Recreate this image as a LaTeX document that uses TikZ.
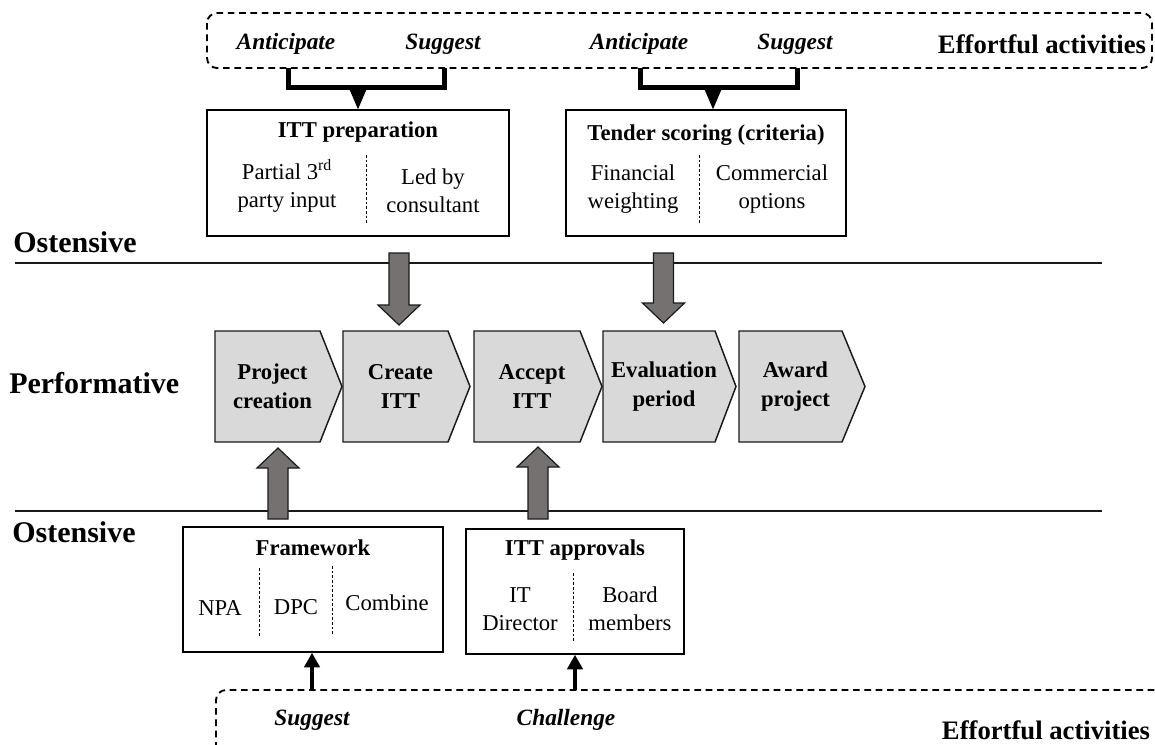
\documentclass[tikz,border=0pt]{standalone}
\usepackage{fontspec}
\setmainfont{Liberation Serif}
\usetikzlibrary{calc,arrows.meta}

\definecolor{chevfill}{HTML}{D9D9D9}
\definecolor{arrowfill}{HTML}{767171}
\definecolor{inkdark}{HTML}{1A1A1A}

\tikzset{
  every node/.style={inner sep=0pt, align=center, font=\fontsize{17}{21}\selectfont},
  effortbox/.style={draw=black, line width=1.4pt, dash pattern=on 5pt off 3.5pt, rounded corners=7.5pt},
  activity/.style={font=\fontsize{17.5}{21}\selectfont\bfseries\itshape},
  efflabel/.style={font=\fontsize{20}{24}\selectfont\bfseries},
  layer/.style={anchor=west, font=\fontsize{22.5}{27}\selectfont\bfseries},
  bracket/.style={line width=3.75pt, line join=miter},
  routine/.style={draw=black, line width=1.1pt},
  routinetitle/.style={font=\fontsize{17}{21}\selectfont\bfseries},
  divider/.style={draw=black, line width=0.5pt, dash pattern=on 2pt off 1.5pt},
  chevron/.style={draw=inkdark, line width=1.1pt, fill=chevfill, line join=miter},
  chevtext/.style={font=\fontsize{17}{21.75}\selectfont\bfseries},
  blockarrow/.style={draw=inkdark, line width=0.9pt, fill=arrowfill, line join=miter},
  pusharrow/.style={line width=3pt, -{Triangle[length=11pt, width=11.5pt]}},
  layerrule/.style={draw=inkdark, line width=0.8pt}
}

% process step drawn as a chevron: name, left x, body width, total width, label
\newcommand\processstep[5]{%
  \draw[chevron] (#2,331) -- ({#2+#3},331) -- ({#2+#4},386.5) -- ({#2+#3},442) -- (#2,442) -- cycle;
  \node[chevtext] (#1) at ({#2+#3/2+5},386.5) {#5};}

% wide grey block arrow between two vertically aligned coordinates
\newcommand\blockarrowdraw[2]{%
  \draw[blockarrow] let \p1=(#1), \p2=(#2), \n1={ifthenelse(\y1>\y2,1,-1)} in
    ({\x1-7.5pt},\y1) -- ({\x1-7.5pt},{\y2+\n1*15pt}) -- ({\x1-15.75pt},{\y2+\n1*15pt})
    -- (\x1,\y2) -- ({\x1+15.75pt},{\y2+\n1*15pt}) -- ({\x1+7.5pt},{\y2+\n1*15pt})
    -- ({\x1+7.5pt},\y1) -- cycle;}

\begin{document}
\begin{tikzpicture}[x=0.75pt, y=-0.75pt]
  \clip (0,0) rectangle (1155,744);
  \fill[white] (0,0) rectangle (1155,744);

  % layer labels and separating rules
  \node[layer] (ostTop) at (13,242) {Ostensive};
  \node[layer] (perf) at (9,383) {Performative};
  \node[layer] (ostBot) at (12,532) {Ostensive};
  \draw[layerrule] (15,263) -- (1102,263);
  \draw[layerrule] (15,511) -- (1102,511);

  % upper effortful activities
  \draw[effortbox] (207,13) rectangle (1152,68);
  \node[activity] (ant1) at (286,44) {Anticipate};
  \node[activity] (sug1) at (443,44) {Suggest};
  \node[activity] (ant2) at (639,44) {Anticipate};
  \node[activity] (sug2) at (795,44) {Suggest};
  \node[efflabel] (effTop) at (1042,44) {Effortful activities};

  % upper ostensive routines
  \node[routine, minimum width=302*0.75pt, minimum height=126*0.75pt] (prep) at (358,173) {};
  \node[routinetitle] (prepT) at (358,132) {ITT preparation};
  \node (prepA) at (287,186) {Partial 3\textsuperscript{rd}\\party input};
  \node (prepB) at (433,191) {Led by\\consultant};
  \draw[divider] (366,155) -- (366,223);

  \node[routine, minimum width=280*0.75pt, minimum height=126*0.75pt] (tender) at (706,173) {};
  \node[routinetitle] (tenderT) at (706,135) {Tender scoring (criteria)};
  \node (tenderA) at (633,189) {Financial\\weighting};
  \node (tenderB) at (772,189) {Commercial\\options};
  \draw[divider] (699,155) -- (699,223);

  % brackets joining the activities to the routines
  \coordinate (b1l) at (288,68);
  \coordinate (b1r) at (444,68);
  \draw[bracket] (b1l) -- ++(0,19.5) -| (b1r);
  \fill (prep.north) -- ++(-9,-21) -- ++(18,0) -- cycle;

  \coordinate (b2l) at (640,68);
  \coordinate (b2r) at (797,68);
  \draw[bracket] (b2l) -- ++(0,19.5) -| (b2r);
  \fill (tender.north) ++(7,0) coordinate (t2tip) -- ++(-9,-21) -- ++(18,0) -- cycle;

  % performative process steps
  \processstep{pc}{215}{105}{127}{Project\\creation}
  \processstep{cr}{343}{105}{127}{Create\\ITT}
  \processstep{ac}{474}{106}{128}{Accept\\ITT}
  \processstep{ev}{603}{112}{133}{Evaluation\\period}
  \processstep{aw}{739}{103}{126}{Award\\project}

  % grey arrows between the layers
  \coordinate (d1s) at (399,253);   \coordinate (d1e) at (399,325);
  \coordinate (d2s) at (663.5,253); \coordinate (d2e) at (663.5,323);
  \coordinate (u1s) at (278,519);   \coordinate (u1e) at (278,448);
  \coordinate (u2s) at (538,519);   \coordinate (u2e) at (538,447);
  \blockarrowdraw{d1s}{d1e}
  \blockarrowdraw{d2s}{d2e}
  \blockarrowdraw{u1s}{u1e}
  \blockarrowdraw{u2s}{u2e}

  % lower ostensive routines
  \node[routine, minimum width=260*0.75pt, minimum height=125*0.75pt] (fw) at (313,589.5) {};
  \node[routinetitle] (fwT) at (313,548) {Framework};
  \node (npa) at (220,608) {NPA};
  \node (dpc) at (296,607) {DPC};
  \node (comb) at (387,603) {Combine};
  \draw[divider] (259,568) -- (259,638);
  \draw[divider] (332,566) -- (332,636);

  \node[routine, minimum width=218*0.75pt, minimum height=125*0.75pt] (appr) at (575,591.5) {};
  \node[routinetitle] (apprT) at (575,550) {ITT approvals};
  \node (itdir) at (520,609) {IT\\Director};
  \node (board) at (630,609) {Board\\members};
  \draw[divider] (573,573) -- (573,642);

  % lower effortful activities
  \draw[effortbox] (216,760) -- (216,690) -- (1170,690);
  \node[activity] (sug3) at (312,720) {Suggest};
  \node[activity] (chal) at (566,720) {Challenge};
  \node[efflabel] (effBot) at (1046,730) {Effortful activities};

  \coordinate (p1) at (312,690);
  \coordinate (p2) at (575,690);
  \draw[pusharrow] (p1) -- (p1 |- fw.south);
  \draw[pusharrow] (p2) -- (p2 |- appr.south);
\end{tikzpicture}
\end{document}
